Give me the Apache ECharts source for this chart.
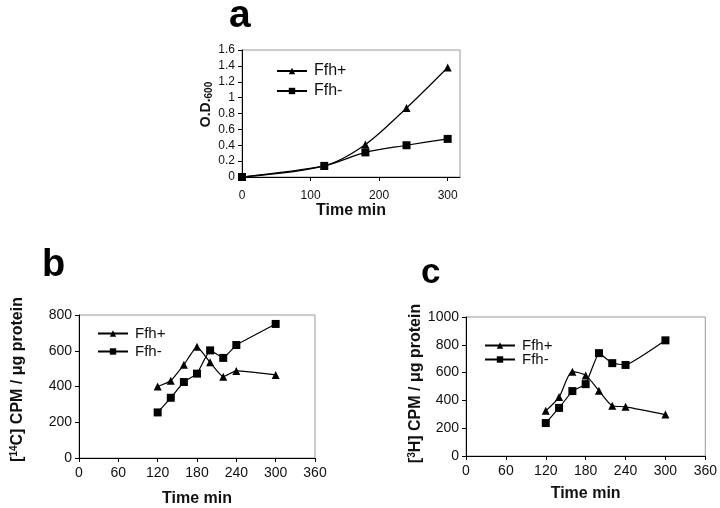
<!DOCTYPE html>
<html><head><meta charset="utf-8">
<script src="https://cdn.jsdelivr.net/npm/echarts@6/dist/echarts.min.js"></script>
<style>html,body{margin:0;padding:0;background:#fff}#c{width:720px;height:508px}</style>
</head><body><div id="c"></div>
<script>
// Panel a: O.D.600 growth
var aTimes = [0, 120, 180, 240, 300];
var aPlus  = [0.0, 0.14, 0.41, 0.87, 1.38];
var aMinus = [0.0, 0.14, 0.31, 0.40, 0.48];
// Panel b: [14C] CPM / ug protein
var bTimes = [120, 140, 160, 180, 200, 220, 240, 300];
var bPlus  = [400, 432, 522, 622, 535, 455, 487, 465];
var bMinus = [255, 337, 425, 472, 602, 560, 632, 750];
// Panel c: [3H] CPM / ug protein
var cTimes = [120, 140, 160, 180, 200, 220, 240, 300];
var cPlus  = [325, 424, 607, 580, 470, 362, 354, 298];
var cMinus = [237, 346, 467, 517, 740, 668, 655, 832];
var aXTicks = [0, 100, 200, 300];
var bcXTicks = [0, 60, 120, 180, 240, 300, 360];

function pairs(xs, ys){ return xs.map(function(x,i){ return [x, ys[i]]; }); }

var FONT = 'Liberation Sans, Arial, sans-serif';
var axisLine = {show:true, lineStyle:{color:'#000', width:1}};
var black = '#000';
function plain(v){ return String(v); }

function xAxisDef(gi, min, max, interval, ticks, gap, fs, lblfs, lblMargin){
  return {
    type:'value', gridIndex:gi, min:min, max:max, interval:interval,
    axisLine: axisLine, splitLine:{show:false},
    axisTick:{show:true, inside:false, length:4, lineStyle:{color:'#000'}, customValues: ticks},
    axisLabel:{color:'#111', fontFamily:FONT, fontSize:lblfs, margin:lblMargin, customValues: ticks, formatter: plain},
    name:'Time min', nameLocation:'middle', nameGap:gap,
    nameTextStyle:{fontFamily:FONT, fontWeight:'bold', fontSize:fs, color:'#111'}
  };
}
function yAxisDef(gi, min, max, interval, name, rich, gap, lblfs, pad){
  return {
    type:'value', gridIndex:gi, min:min, max:max, interval:interval,
    axisLine: axisLine, splitLine:{show:false},
    axisTick:{show:true, inside:false, length:4, lineStyle:{color:'#000'}},
    axisLabel:{color:'#111', fontFamily:FONT, fontSize:lblfs, margin:7, formatter: plain},
    name:name, nameLocation:'middle', nameGap:gap, nameRotate:90,
    nameTextStyle:{fontFamily:FONT, fontWeight:'bold', color:'#111', rich:rich, padding:pad}
  };
}
function lineSeries(name, xi, yi, data, symbol, size, smooth){
  return {
    type:'line', name:name, xAxisIndex:xi, yAxisIndex:yi, data:data,
    symbol:symbol, symbolSize:size, smooth:smooth,
    itemStyle:{color:black}, lineStyle:{color:black, width:1.2},
    animation:false, z:3
  };
}

var richA = {
  m:{fontFamily:FONT, fontWeight:'bold', fontSize:14, color:'#111', lineHeight:16},
  s:{fontFamily:FONT, fontWeight:'bold', fontSize:10, color:'#111', verticalAlign:'bottom', lineHeight:10}
};
var richBC = {
  m:{fontFamily:FONT, fontWeight:'bold', fontSize:16, color:'#111', lineHeight:18},
  u:{fontFamily:FONT, fontWeight:'bold', fontSize:10, color:'#111', verticalAlign:'top', lineHeight:10}
};

function legendDef(name, left, top, fs){
  return {
    data:[name], left:left, top:top, orient:'vertical', itemWidth:30, itemHeight:8, itemGap:0,
    padding:0, selectedMode:false,
    textStyle:{fontFamily:FONT, fontSize:fs, color:'#111', padding:[0,0,0,2]}
  };
}

var option = {
  animation:false,
  backgroundColor:'#fff',
  grid:[
    {left:242, right:260, top:50, bottom:331, show:true, borderColor:'#999', borderWidth:1},
    {left:79, right:405, top:315, bottom:50, show:true, borderColor:'#999', borderWidth:1},
    {left:466, right:13, top:317, bottom:52, show:true, borderColor:'#999', borderWidth:1}
  ],
  xAxis:[
    xAxisDef(0, 0, 318, 100, aXTicks, 23, 16, 12, 13),
    xAxisDef(1, 0, 360, 60, bcXTicks, 33, 16, 14, 8),
    xAxisDef(2, 0, 360, 60, bcXTicks, 30, 16, 14, 8)
  ],
  yAxis:[
    yAxisDef(0, 0, 1.6, 0.2, '{m|O.D.}{s|600}', richA, 27, 12, [0,0,0,18]),
    yAxisDef(1, 0, 800, 200, '{m|[}{u|14}{m|C] CPM / μg protein}', richBC, 52, 14, [0,0,0,14]),
    yAxisDef(2, 0, 1000, 200, '{m|[}{u|3}{m|H] CPM / μg protein}', richBC, 39, 14, [0,0,0,6])
  ],
  legend:[
    legendDef('Ffh+', 276, 63, 16),
    legendDef('Ffh-', 276, 83, 16)
  ],
  graphic:[
    {type:'text', left:229, top:-3, style:{text:'a', fontFamily:FONT, fontWeight:'bold', fontSize:39, fill:'#000'}},
    {type:'text', left:42, top:247, style:{text:'b', fontFamily:FONT, fontWeight:'bold', fontSize:38, fill:'#000'}},
    {type:'text', left:421, top:256, style:{text:'c', fontFamily:FONT, fontWeight:'bold', fontSize:35, fill:'#000'}}
  ],
  series:[
    lineSeries('Ffh+', 0, 0, pairs(aTimes, aPlus), 'triangle', 8, 0.3),
    lineSeries('Ffh-', 0, 0, pairs(aTimes, aMinus), 'rect', 8, 0.3),
    lineSeries('Ffh+', 1, 1, pairs(bTimes, bPlus), 'triangle', 8, 0.15),
    lineSeries('Ffh-', 1, 1, pairs(bTimes, bMinus), 'rect', 8, 0.1),
    lineSeries('Ffh+', 2, 2, pairs(cTimes, cPlus), 'triangle', 8, 0.25),
    lineSeries('Ffh-', 2, 2, pairs(cTimes, cMinus), 'rect', 8, 0.1)
  ]
};
// extra legends for panels b and c (visual only)
option.legend.push(legendDef('Ffh+', 97, 326, 15));
option.legend.push(legendDef('Ffh-', 97, 344, 15));
option.legend.push(legendDef('Ffh+', 484, 338, 15));
option.legend.push(legendDef('Ffh-', 484, 352, 15));

var chart = echarts.init(document.getElementById('c'), null, {renderer:'canvas'});
chart.setOption(option);
</script>
</body></html>
